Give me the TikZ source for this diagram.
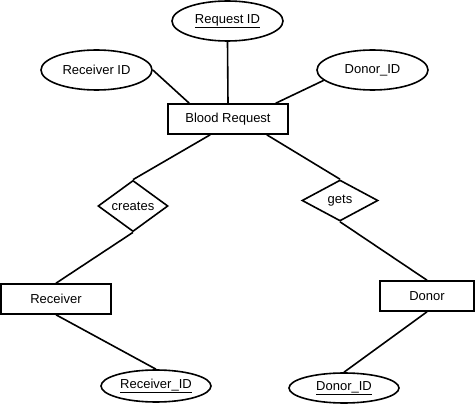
\documentclass[tikz,border=0pt]{standalone}
\usepackage{fontspec}
\setmainfont{Liberation Sans}
\usetikzlibrary{shapes.geometric,calc}
\tikzset{
  base/.style={draw=black, line width=1.6pt, inner sep=0pt, font=\fontsize{13}{15}\selectfont},
  attr/.style={base, ellipse, minimum width=111pt, minimum height=40pt},
  ent/.style={base, rectangle, minimum height=30pt},
  rel/.style={base, diamond, minimum width=70pt, minimum height=40pt},
  link/.style={line width=1.6pt}
}
\begin{document}
\begin{tikzpicture}[x=1pt,y=-1pt]
\useasboundingbox (0,0) rectangle (475,404);
\node[attr] (reqid) at (227.5,21) {\underline{Request ID}};
\node[attr] (rid) at (96.5,70) {Receiver ID};
\node[attr] (did) at (372.5,70) {Donor\_ID};
\node[ent, minimum width=120pt] (br) at (228,119) {Blood Request};
\node[rel] (creates) at (133,206) {creates};
\node[rel, minimum width=76pt, minimum height=41pt] (gets) at (340,200.5) {gets};
\node[ent, minimum width=110pt] (rec) at (56,299) {Receiver};
\node[ent, minimum width=94pt] (don) at (427,296) {Donor};
\node[attr, minimum width=110pt, minimum height=32pt] (ridb) at (156,386) {\underline{Receiver\_ID}};
\node[attr, minimum width=110pt, minimum height=30pt] (didb) at (344,388) {\underline{Donor\_ID}};
\draw[link] (rid.east) -- ($(br.north west)+(22,0)$);
\draw[link] (reqid.south) -- (br.north);
\draw[link] (did.192) -- ($(br.north east)+(-13,0)$);
\draw[link] ($(br.south west)+(43,0)$) -- (creates.north);
\draw[link] ($(br.south east)+(-22,0)$) -- (gets.north);
\draw[link] (creates.south) -- (rec.north);
\draw[link] (gets.south) -- (don.north);
\draw[link] (rec.south) -- (ridb.north);
\draw[link] (don.south) -- (didb.north);
\end{tikzpicture}
\end{document}
